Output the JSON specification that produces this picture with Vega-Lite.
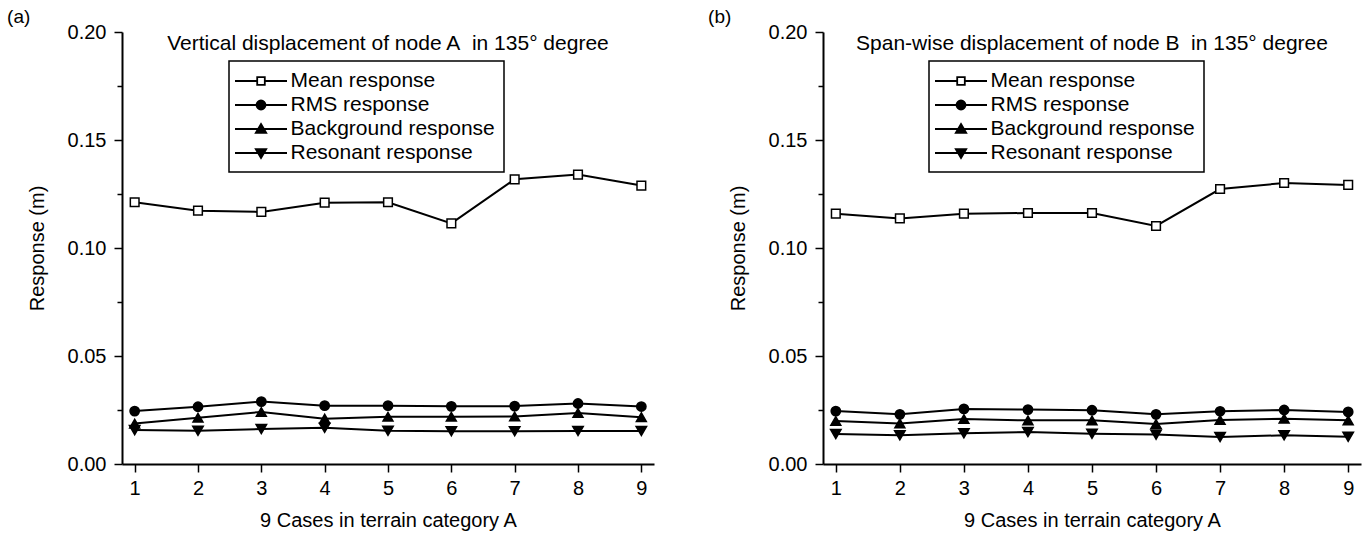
{
  "$schema": "https://vega.github.io/schema/vega-lite/v6.json",
  "background": "white",
  "padding": {"left": 7, "top": 8, "right": 4, "bottom": 4},
  "spacing": 40,
  "datasets": {
    "a": [
      {"case": 1, "series": "Mean response", "value": 0.1212},
      {"case": 2, "series": "Mean response", "value": 0.1173},
      {"case": 3, "series": "Mean response", "value": 0.1167},
      {"case": 4, "series": "Mean response", "value": 0.1210},
      {"case": 5, "series": "Mean response", "value": 0.1212},
      {"case": 6, "series": "Mean response", "value": 0.1114},
      {"case": 7, "series": "Mean response", "value": 0.1318},
      {"case": 8, "series": "Mean response", "value": 0.1340},
      {"case": 9, "series": "Mean response", "value": 0.1289},
      {"case": 1, "series": "RMS response", "value": 0.0245},
      {"case": 2, "series": "RMS response", "value": 0.0265},
      {"case": 3, "series": "RMS response", "value": 0.0289},
      {"case": 4, "series": "RMS response", "value": 0.0270},
      {"case": 5, "series": "RMS response", "value": 0.0270},
      {"case": 6, "series": "RMS response", "value": 0.0267},
      {"case": 7, "series": "RMS response", "value": 0.0268},
      {"case": 8, "series": "RMS response", "value": 0.0280},
      {"case": 9, "series": "RMS response", "value": 0.0266},
      {"case": 1, "series": "Background response", "value": 0.0187},
      {"case": 2, "series": "Background response", "value": 0.0214},
      {"case": 3, "series": "Background response", "value": 0.0241},
      {"case": 4, "series": "Background response", "value": 0.0210},
      {"case": 5, "series": "Background response", "value": 0.0219},
      {"case": 6, "series": "Background response", "value": 0.0219},
      {"case": 7, "series": "Background response", "value": 0.0220},
      {"case": 8, "series": "Background response", "value": 0.0236},
      {"case": 9, "series": "Background response", "value": 0.0217},
      {"case": 1, "series": "Resonant response", "value": 0.0157},
      {"case": 2, "series": "Resonant response", "value": 0.0154},
      {"case": 3, "series": "Resonant response", "value": 0.0162},
      {"case": 4, "series": "Resonant response", "value": 0.0168},
      {"case": 5, "series": "Resonant response", "value": 0.0154},
      {"case": 6, "series": "Resonant response", "value": 0.0152},
      {"case": 7, "series": "Resonant response", "value": 0.0152},
      {"case": 8, "series": "Resonant response", "value": 0.0153},
      {"case": 9, "series": "Resonant response", "value": 0.0153}
    ],
    "b": [
      {"case": 1, "series": "Mean response", "value": 0.1159},
      {"case": 2, "series": "Mean response", "value": 0.1137},
      {"case": 3, "series": "Mean response", "value": 0.1159},
      {"case": 4, "series": "Mean response", "value": 0.1162},
      {"case": 5, "series": "Mean response", "value": 0.1162},
      {"case": 6, "series": "Mean response", "value": 0.1102},
      {"case": 7, "series": "Mean response", "value": 0.1273},
      {"case": 8, "series": "Mean response", "value": 0.1301},
      {"case": 9, "series": "Mean response", "value": 0.1292},
      {"case": 1, "series": "RMS response", "value": 0.0245},
      {"case": 2, "series": "RMS response", "value": 0.0230},
      {"case": 3, "series": "RMS response", "value": 0.0255},
      {"case": 4, "series": "RMS response", "value": 0.0252},
      {"case": 5, "series": "RMS response", "value": 0.0249},
      {"case": 6, "series": "RMS response", "value": 0.0230},
      {"case": 7, "series": "RMS response", "value": 0.0244},
      {"case": 8, "series": "RMS response", "value": 0.0250},
      {"case": 9, "series": "RMS response", "value": 0.0241},
      {"case": 1, "series": "Background response", "value": 0.0199},
      {"case": 2, "series": "Background response", "value": 0.0188},
      {"case": 3, "series": "Background response", "value": 0.0208},
      {"case": 4, "series": "Background response", "value": 0.0202},
      {"case": 5, "series": "Background response", "value": 0.0202},
      {"case": 6, "series": "Background response", "value": 0.0185},
      {"case": 7, "series": "Background response", "value": 0.0204},
      {"case": 8, "series": "Background response", "value": 0.0210},
      {"case": 9, "series": "Background response", "value": 0.0202},
      {"case": 1, "series": "Resonant response", "value": 0.0139},
      {"case": 2, "series": "Resonant response", "value": 0.0133},
      {"case": 3, "series": "Resonant response", "value": 0.0142},
      {"case": 4, "series": "Resonant response", "value": 0.0148},
      {"case": 5, "series": "Resonant response", "value": 0.0140},
      {"case": 6, "series": "Resonant response", "value": 0.0136},
      {"case": 7, "series": "Resonant response", "value": 0.0125},
      {"case": 8, "series": "Resonant response", "value": 0.0133},
      {"case": 9, "series": "Resonant response", "value": 0.0126}
    ]
  },
  "hconcat": [
    {
      "width": 532,
      "height": 432,
      "title": {"text": "(a)", "anchor": "start", "frame": "bounds", "dx": -20},
      "data": {"name": "a"},
      "encoding": {
        "x": {"field": "case", "type": "quantitative", "scale": {"domain": [0.8, 9.2], "nice": false, "zero": false},
              "axis": {"values": [1, 2, 3, 4, 5, 6, 7, 8, 9], "format": "d", "title": "9 Cases in terrain category A"}},
        "y": {"field": "value", "type": "quantitative", "scale": {"domain": [0, 0.2], "nice": false},
              "axis": {"values": [0, 0.025, 0.05, 0.075, 0.1, 0.125, 0.15, 0.175, 0.2],
                       "labelExpr": "round(datum.value*40)%2==0 ? format(datum.value, '.2f') : ''",
                       "tickSize": {"condition": {"test": "round(datum.value*40)%2==1", "value": 5}, "value": 8},
                       "title": "Response (m)"}}
      },
      "layer": [
        {"mark": {"type": "line", "color": "black", "strokeWidth": 2}, "encoding": {"detail": {"field": "series"}}},
        {"mark": {"type": "point", "filled": true, "stroke": "black", "strokeWidth": 1.5, "opacity": 1},
         "encoding": {
           "shape": {"field": "series", "scale": {"domain": ["Mean response", "RMS response", "Background response", "Resonant response"], "range": ["square", "circle", "triangle-up", "triangle-down"]}, "legend": null},
           "fill": {"field": "series", "scale": {"domain": ["Mean response", "RMS response", "Background response", "Resonant response"], "range": ["white", "black", "black", "black"]}, "legend": null},
           "size": {"field": "series", "type": "ordinal", "scale": {"domain": ["Mean response", "RMS response", "Background response", "Resonant response"], "range": [75, 110, 130, 130]}, "legend": null}
         }},
        {"mark": {"type": "point", "filled": true, "stroke": "black", "strokeWidth": 1.5, "opacity": 0, "size": 400},
         "encoding": {
           "shape": {"field": "series", "scale": {"domain": ["Mean response", "RMS response", "Background response", "Resonant response"],
             "range": ["M-2.6,0H-0.38M0.38,0H2.6M-0.38,-0.38H0.38V0.38H-0.38Z",
                       "M-2.6,0H2.6M0.45,0A0.45,0.45,0,1,1,-0.45,0A0.45,0.45,0,1,1,0.45,0Z",
                       "M-2.6,0H2.6M0,-0.5L0.52,0.38H-0.52Z",
                       "M-2.6,0H2.6M0,0.5L0.52,-0.38H-0.52Z"]},
             "legend": {"orient": "none", "legendX": 107, "legendY": 29, "symbolOpacity": 1,
                        "encode": {"symbols": {"update": {"stroke": {"value": "black"}, "strokeWidth": {"value": 1.8}, "opacity": {"value": 1}}}}}},
           "fill": {"field": "series", "scale": {"domain": ["Mean response", "RMS response", "Background response", "Resonant response"], "range": ["white", "black", "black", "black"]},
             "legend": {"orient": "none", "legendX": 107, "legendY": 29, "symbolOpacity": 1,
                        "encode": {"symbols": {"update": {"stroke": {"value": "black"}, "strokeWidth": {"value": 1.8}, "opacity": {"value": 1}}}}}}
         }},
        {"data": {"values": [{"label": "Vertical displacement of node A\u00a0 in 135° degree", "cx": 5, "cy": 0.1918}]},
         "mark": {"type": "text", "baseline": "alphabetic", "align": "center"},
         "encoding": {"x": {"field": "cx", "type": "quantitative"}, "y": {"field": "cy", "type": "quantitative"}, "text": {"field": "label"}}}
      ],
      "resolve": {"scale": {"shape": "independent", "fill": "independent", "size": "independent"}}
    },
    {
      "width": 538,
      "height": 432,
      "title": {"text": "(b)", "anchor": "start", "frame": "bounds", "dx": -20},
      "data": {"name": "b"},
      "encoding": {
        "x": {"field": "case", "type": "quantitative", "scale": {"domain": [0.8, 9.2], "nice": false, "zero": false},
              "axis": {"values": [1, 2, 3, 4, 5, 6, 7, 8, 9], "format": "d", "title": "9 Cases in terrain category A"}},
        "y": {"field": "value", "type": "quantitative", "scale": {"domain": [0, 0.2], "nice": false},
              "axis": {"values": [0, 0.025, 0.05, 0.075, 0.1, 0.125, 0.15, 0.175, 0.2],
                       "labelExpr": "round(datum.value*40)%2==0 ? format(datum.value, '.2f') : ''",
                       "tickSize": {"condition": {"test": "round(datum.value*40)%2==1", "value": 5}, "value": 8},
                       "title": "Response (m)"}}
      },
      "layer": [
        {"mark": {"type": "line", "color": "black", "strokeWidth": 2}, "encoding": {"detail": {"field": "series"}}},
        {"mark": {"type": "point", "filled": true, "stroke": "black", "strokeWidth": 1.5, "opacity": 1},
         "encoding": {
           "shape": {"field": "series", "scale": {"domain": ["Mean response", "RMS response", "Background response", "Resonant response"], "range": ["square", "circle", "triangle-up", "triangle-down"]}, "legend": null},
           "fill": {"field": "series", "scale": {"domain": ["Mean response", "RMS response", "Background response", "Resonant response"], "range": ["white", "black", "black", "black"]}, "legend": null},
           "size": {"field": "series", "type": "ordinal", "scale": {"domain": ["Mean response", "RMS response", "Background response", "Resonant response"], "range": [75, 110, 130, 130]}, "legend": null}
         }},
        {"mark": {"type": "point", "filled": true, "stroke": "black", "strokeWidth": 1.5, "opacity": 0, "size": 400},
         "encoding": {
           "shape": {"field": "series", "scale": {"domain": ["Mean response", "RMS response", "Background response", "Resonant response"],
             "range": ["M-2.6,0H-0.38M0.38,0H2.6M-0.38,-0.38H0.38V0.38H-0.38Z",
                       "M-2.6,0H2.6M0.45,0A0.45,0.45,0,1,1,-0.45,0A0.45,0.45,0,1,1,0.45,0Z",
                       "M-2.6,0H2.6M0,-0.5L0.52,0.38H-0.52Z",
                       "M-2.6,0H2.6M0,0.5L0.52,-0.38H-0.52Z"]},
             "legend": {"orient": "none", "legendX": 106, "legendY": 29, "symbolOpacity": 1,
                        "encode": {"symbols": {"update": {"stroke": {"value": "black"}, "strokeWidth": {"value": 1.8}, "opacity": {"value": 1}}}}}},
           "fill": {"field": "series", "scale": {"domain": ["Mean response", "RMS response", "Background response", "Resonant response"], "range": ["white", "black", "black", "black"]},
             "legend": {"orient": "none", "legendX": 106, "legendY": 29, "symbolOpacity": 1,
                        "encode": {"symbols": {"update": {"stroke": {"value": "black"}, "strokeWidth": {"value": 1.8}, "opacity": {"value": 1}}}}}}
         }},
        {"data": {"values": [{"label": "Span-wise displacement of node B\u00a0 in 135° degree", "cx": 5, "cy": 0.1918}]},
         "mark": {"type": "text", "baseline": "alphabetic", "align": "center"},
         "encoding": {"x": {"field": "cx", "type": "quantitative"}, "y": {"field": "cy", "type": "quantitative"}, "text": {"field": "label"}}}
      ],
      "resolve": {"scale": {"shape": "independent", "fill": "independent", "size": "independent"}}
    }
  ],
  "resolve": {
    "scale": {"x": "independent", "y": "independent", "shape": "independent", "fill": "independent", "size": "independent"},
    "legend": {"shape": "independent", "fill": "independent"}
  },
  "config": {
    "font": "Liberation Sans",
    "view": {"stroke": null},
    "axis": {
      "grid": false,
      "domainColor": "black",
      "domainWidth": 2,
      "tickColor": "black",
      "tickWidth": 1.5,
      "tickSize": 8,
      "labelFont": "Liberation Sans",
      "labelFontSize": 20,
      "labelColor": "black",
      "labelPadding": 8,
      "titleFont": "Liberation Sans",
      "titleFontSize": 20,
      "titleFontWeight": "normal",
      "titleColor": "black"
    },
    "axisX": {"titlePadding": 12, "labelPadding": 6},
    "axisY": {"titlePadding": 20},
    "legend": {
      "title": null,
      "labelFont": "Liberation Sans",
      "labelFontSize": 21,
      "labelColor": "black",
      "labelLimit": 400,
      "symbolSize": 400,
      "symbolStrokeWidth": 1.5,
      "symbolStrokeColor": "black",
      "symbolOffset": 12,
      "labelOffset": 18.5,
      "rowPadding": 3,
      "padding": 9,
      "strokeColor": "black",
      "strokeWidth": 1.5
    },
    "title": {"font": "Liberation Sans", "fontSize": 19, "fontWeight": "normal", "color": "black", "offset": -5},
    "text": {"font": "Liberation Sans", "fontSize": 21, "color": "black"}
  }
}
